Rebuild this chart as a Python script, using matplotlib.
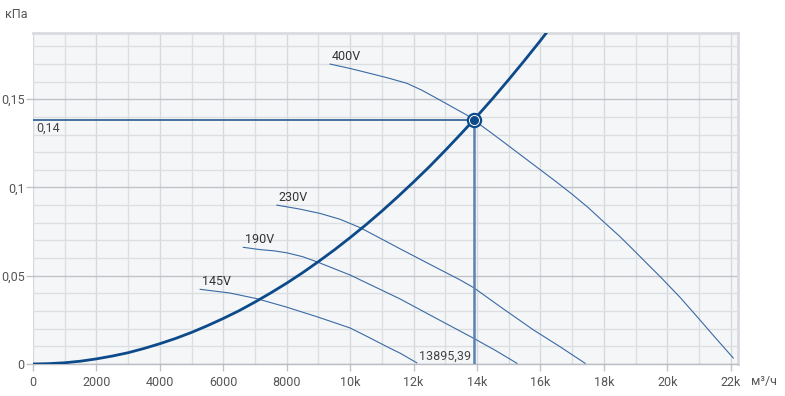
import numpy as np
import matplotlib
matplotlib.use('Agg')
import matplotlib.pyplot as plt
from matplotlib.ticker import FixedLocator, MultipleLocator

plt.rcParams['font.family'] = ['Roboto', 'DejaVu Sans']

# fan curves, m3/h vs kPa
q400 = [9370, 10000, 10630, 11200, 11790, 12250, 12730, 13200, 13680, 13895, 14400, 14840, 15400, 15990, 16500, 16990, 17500, 17990, 18500, 18990, 19400, 19830, 20400, 20950, 21500, 22080]
p400 = [0.1699, 0.1674, 0.1646, 0.1620, 0.1590, 0.1552, 0.1505, 0.1458, 0.1410, 0.1382, 0.1316, 0.1257, 0.1181, 0.1101, 0.1032, 0.0963, 0.0887, 0.0806, 0.0723, 0.0636, 0.0562, 0.0485, 0.0378, 0.0266, 0.0152, 0.0034]

q230 = [7690, 8400, 9050, 9680, 10320, 10950, 11580, 12500, 13470, 13890, 14800, 15780, 16600, 17410]
p230 = [0.0900, 0.0878, 0.0853, 0.0820, 0.0772, 0.0712, 0.0652, 0.0566, 0.0476, 0.0433, 0.0316, 0.0193, 0.0100, 0.0004]

q190 = [6630, 7160, 7600, 8000, 8500, 8950, 10000, 11000, 11580, 12700, 13890, 14600, 15260]
p190 = [0.0661, 0.0648, 0.0641, 0.0630, 0.0608, 0.0579, 0.0504, 0.0418, 0.0368, 0.0260, 0.0146, 0.0075, 0.0004]

q145 = [5270, 6210, 7060, 8000, 8950, 10000, 10600, 11260, 11580, 12100]
p145 = [0.0423, 0.0402, 0.0370, 0.0322, 0.0268, 0.0204, 0.0150, 0.0089, 0.0061, 0.0007]

fans = [('400V', q400, p400), ('230V', q230, p230), ('190V', q190, p190), ('145V', q145, p145)]

# system curve
q_sys = [0, 500, 1000, 1500, 2000, 2500, 3000, 3500, 4000, 4500, 5000, 5500, 6000, 6500, 7000, 7500,
         8000, 8500, 9000, 9500, 10000, 10500, 11000, 11500, 12000, 12500, 13000, 13500, 13895,
         14500, 15000, 15500, 16000, 16500]
p_sys = [0, 0.0002, 0.0007, 0.0016, 0.0029, 0.0045, 0.0064, 0.0088, 0.0115, 0.0145, 0.0179, 0.0217, 0.0258,
         0.0302, 0.0351, 0.0403, 0.0458, 0.0517, 0.0580, 0.0646, 0.0716, 0.0789, 0.0866, 0.0947, 0.1031,
         0.1118, 0.1210, 0.1305, 0.1382, 0.1505, 0.1611, 0.1720, 0.1832, 0.1949]

# operating point
q_op = 13895.39
p_op = 0.1382

x_ticks = [0, 2000, 4000, 6000, 8000, 10000, 12000, 14000, 16000, 18000, 20000, 22000]
x_labels = ['0', '2000', '4000', '6000', '8000', '10k', '12k', '14k', '16k', '18k', '20k', '22k']
y_ticks = [0, 0.05, 0.1, 0.15]
y_labels = ['0', '0,05', '0,1', '0,15']

fig = plt.figure(figsize=(7.85, 3.96), dpi=100)
ax = fig.add_axes([33/785, 32/396, (738-33)/785, (364-33)/396])
ax.set_facecolor('#f5f6f8')

ax.set_xlim(0, 22230)
ax.set_ylim(0, 0.1875)

# grid
ax.xaxis.set_minor_locator(MultipleLocator(1000))
ax.yaxis.set_minor_locator(MultipleLocator(0.01))
ax.grid(which='minor', color='#dcdfe2', lw=1)
ax.grid(which='major', axis='x', color='#d6d9dd', lw=1)
ax.grid(which='major', axis='y', color='#bfc3c8', lw=1)
ax.set_axisbelow(True)

ax.xaxis.set_major_locator(FixedLocator(x_ticks))
ax.set_xticklabels(x_labels)
ax.yaxis.set_major_locator(FixedLocator(y_ticks))
ax.set_yticklabels(y_labels)
ax.tick_params(which='minor', length=0)
ax.tick_params(which='major', length=5, width=1, color='#bfc3c8', labelcolor='#555555', labelsize=9)
ax.tick_params(axis='x', pad=4)
ax.tick_params(axis='y', pad=1)

for s in ['top', 'right']:
    ax.spines[s].set_color('#d8dbdf')
    ax.spines[s].set_linewidth(2)
ax.spines['left'].set_visible(False)
ax.spines['bottom'].set_color('#b9bdc2')
ax.spines['bottom'].set_linewidth(1)

# fan curves
for name, q, p in fans:
    ax.plot(q, p, color='#3a6aa5', lw=0.8, zorder=3)
    ax.annotate(name, (q[0], p[0]), xytext=(1, 1), textcoords='offset points',
                ha='left', va='bottom', fontsize=9, color='#333333')

# operating point guides
ax.plot([0, q_op], [p_op, p_op], color='#2b5a93', lw=1.2, zorder=3)
ax.plot([q_op, q_op], [0, p_op], color='#5b82b0', lw=1.8, zorder=3)

# system curve
ax.plot(q_sys, p_sys, color='#0d4a8a', lw=2, zorder=4)

ax.plot([q_op], [p_op], 'o', ms=9.5, mfc='white', mec='#0d4a8a', mew=1.6, zorder=5)
ax.plot([q_op], [p_op], 'o', ms=5.5, mfc='#0d4a8a', mec='#0d4a8a', zorder=6)

ax.annotate('0,14', (0, p_op), xytext=(2, -1), textcoords='offset points',
            ha='left', va='top', fontsize=9, color='#444444')
ax.annotate('13895,39', (q_op, 0), xytext=(-2, 1), textcoords='offset points',
            ha='right', va='bottom', fontsize=9, color='#444444')

fig.text(5/785, 1 - 15/396, 'кПа', fontsize=9, color='#555555', ha='left', va='center')
fig.text(751/785, 1 - 381/396, 'м³/ч', fontsize=9, color='#555555', ha='left', va='center')

fig.savefig('out.png', dpi=100)
